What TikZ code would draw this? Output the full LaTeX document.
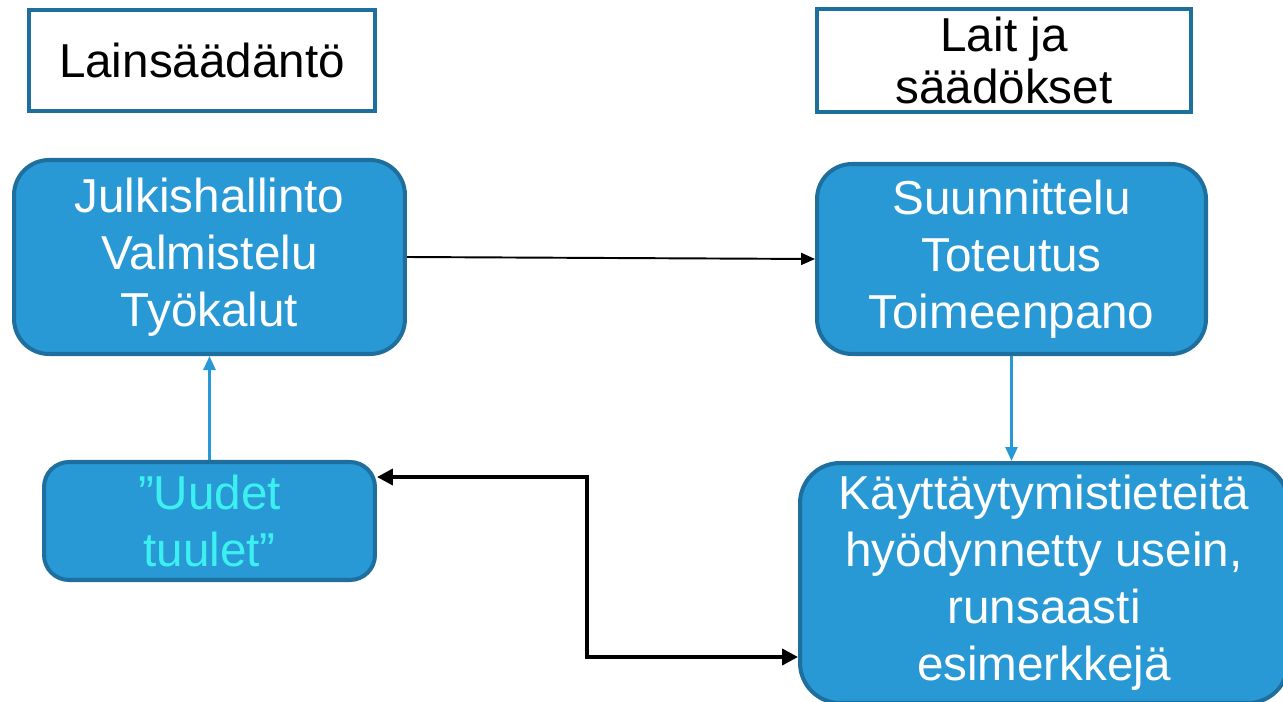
\documentclass[tikz,border=0pt]{standalone}
\usepackage{fontspec}
\setmainfont{Liberation Sans}
\usetikzlibrary{arrows.meta}

\definecolor{laatikko}{RGB}{41,153,214}
\definecolor{reuna}{RGB}{31,111,158}
\definecolor{syaani}{RGB}{60,240,240}

\begin{document}
\begin{tikzpicture}[x=0.02cm,y=-0.02cm,
        otsikko/.style={draw=reuna, line width=2.3pt, fill=white, align=center,
            inner sep=0pt, font=\fontsize{27.1}{29.5}\selectfont},
        lohko/.style={draw=reuna, line width=2.3pt, fill=laatikko, text=white,
            align=center, inner sep=0pt, font=\fontsize{27.1}{32.4}\selectfont},
        ohut/.style={line width=1.1pt, -{Triangle[length=0.28cm,width=0.24cm]}},
        paksu/.style={line width=2.2pt,
            {Triangle[length=0.32cm,width=0.32cm]}-{Triangle[length=0.32cm,width=0.32cm]}}]
    \useasboundingbox (0,0) rectangle (1283,702);

    % otsikot
    \node[otsikko, minimum width=6.92cm, minimum height=2.02cm] (laki) at (202,60.5) {Lainsäädäntö};
    \node[otsikko, minimum width=7.48cm, minimum height=2.06cm] (lait) at (1004,60.5) {Lait ja\\säädökset};

    % laatikot
    \node[lohko, rounded corners=0.7cm, minimum width=7.82cm, minimum height=3.88cm]
        (julki) at (209.5,257) {Julkishallinto\\Valmistelu\\Työkalut};
    \node[lohko, rounded corners=0.7cm, minimum width=7.78cm, minimum height=3.8cm]
        (suunn) at (1011.5,259) {Suunnittelu\\Toteutus\\Toimeenpano};
    \node[lohko, rounded corners=0.5cm, minimum width=6.62cm, minimum height=2.36cm, text=syaani]
        (uudet) at (209.5,521) {”Uudet\\tuulet”};
    \node[lohko, rounded corners=0.8cm, minimum width=9.76cm, minimum height=4.8cm]
        (kayt) at (1044,583) {Käyttäytymistieteitä\\hyödynnetty usein,\\runsaasti\\esimerkkejä};

    % nuolet
    \draw[ohut] (julki.east) -- (suunn.west);
    \draw[ohut, laatikko, line width=1.5pt] (uudet.north) -- (julki.south);
    \draw[ohut, laatikko, line width=1.5pt] (suunn.south) -- (suunn.south |- kayt.north);

    \coordinate (mutka1) at (587,477);
    \coordinate (mutka2) at (587,657);
    \draw[paksu] (uudet.east |- mutka1) -- (mutka1) -- (mutka2) -- (kayt.west |- mutka2);
\end{tikzpicture}
\end{document}
